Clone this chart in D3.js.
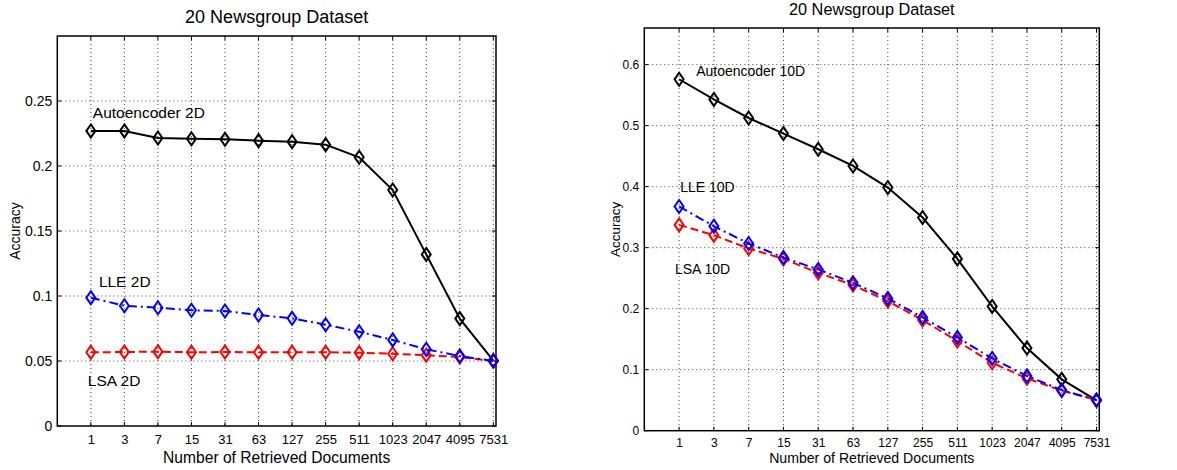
<!DOCTYPE html>
<html>
<head>
<meta charset="utf-8">
<script src="https://cdn.jsdelivr.net/npm/d3@7"></script>
<style>
  body { margin: 0; background: #fff; }
  svg text { font-family: "Liberation Sans", Arial, sans-serif; fill: #000; }
</style>
</head>
<body>
<svg id="mainsvg" width="1177" height="470"></svg>
<script>
// categories (x axis)
const docs = ['1','3','7','15','31','63','127','255','511','1023','2047','4095','7531'];

// left panel: 2D codes
const auto2D = [0.227, 0.227, 0.2215, 0.221, 0.2205, 0.2195, 0.2187, 0.2164, 0.2067, 0.1815, 0.132, 0.0826, 0.0503];
const lle2D  = [0.0987, 0.0925, 0.091, 0.089, 0.0885, 0.0854, 0.0828, 0.0779, 0.0725, 0.0662, 0.059, 0.0538, 0.050];
const lsa2D  = [0.0567, 0.0569, 0.0572, 0.0567, 0.0569, 0.0567, 0.0567, 0.0567, 0.0564, 0.0556, 0.0545, 0.053, 0.050];
const yTicks2D = [0, 0.05, 0.1, 0.15, 0.2, 0.25];

// right panel: 10D codes
const auto10D = [0.576, 0.543, 0.5125, 0.487, 0.4613, 0.4339, 0.3985, 0.3494, 0.2816, 0.2037, 0.1354, 0.0842, 0.0498];
const lle10D  = [0.3675, 0.3352, 0.3068, 0.2839, 0.2643, 0.2424, 0.2168, 0.1857, 0.1529, 0.1185, 0.0896, 0.0666, 0.0503];
const lsa10D  = [0.3373, 0.3205, 0.2987, 0.2816, 0.2587, 0.2386, 0.2124, 0.1813, 0.1469, 0.1113, 0.0858, 0.0655, 0.0503];
const yTicks10D = [0, 0.1, 0.2, 0.3, 0.4, 0.5, 0.6];

var svg = d3.select('#mainsvg');

// series styles
const styles = {
  auto: {color: '#000', dash: null},
  lle:  {color: '#0000ff', dash: '9,4,2,4'},
  lsa:  {color: '#ff0000', dash: '8,4'}
};

function panel(cfg) {
  var g = svg.append('g');
  var x = d3.scaleLinear().domain([0, 13.08]).range([cfg.left, cfg.right]);
  var y = d3.scaleLinear().domain([0, cfg.ymax]).range([cfg.bottom, cfg.top]);
  var idx = d3.range(1, docs.length + 1);

  // grid
  g.append('g').selectAll('line').data(idx).enter().append('line')
    .attr('x1', d => x(d)).attr('x2', d => x(d))
    .attr('y1', cfg.top).attr('y2', cfg.bottom)
    .attr('stroke', '#333').attr('stroke-width', 0.9).attr('stroke-dasharray', '1,3');
  g.append('g').selectAll('line').data(cfg.yticks.filter(v => v > 0)).enter().append('line')
    .attr('x1', cfg.left).attr('x2', cfg.right)
    .attr('y1', d => y(d)).attr('y2', d => y(d))
    .attr('stroke', '#333').attr('stroke-width', 0.9).attr('stroke-dasharray', '1,3');

  // small inner ticks on all four sides
  var tk = 4;
  idx.forEach(function(d) {
    g.append('line').attr('x1', x(d)).attr('x2', x(d)).attr('y1', cfg.bottom).attr('y2', cfg.bottom - tk).attr('stroke', '#000');
    g.append('line').attr('x1', x(d)).attr('x2', x(d)).attr('y1', cfg.top).attr('y2', cfg.top + tk).attr('stroke', '#000');
  });
  cfg.yticks.forEach(function(v) {
    g.append('line').attr('x1', cfg.left).attr('x2', cfg.left + tk).attr('y1', y(v)).attr('y2', y(v)).attr('stroke', '#000');
    g.append('line').attr('x1', cfg.right).attr('x2', cfg.right - tk).attr('y1', y(v)).attr('y2', y(v)).attr('stroke', '#000');
  });

  // axes labels
  var xa = g.append('g').attr('transform', 'translate(0,' + cfg.bottom + ')')
    .call(d3.axisBottom(x).tickValues(idx).tickSize(0).tickPadding(cfg.xpad).tickFormat(d => docs[d - 1]));
  xa.select('.domain').remove();
  xa.selectAll('text').style('font-size', cfg.xfs + 'px').style('font-family', '"Liberation Sans", Arial, sans-serif');

  var ya = g.append('g').attr('transform', 'translate(' + cfg.left + ',0)')
    .call(d3.axisLeft(y).tickValues(cfg.yticks).tickSize(0).tickPadding(cfg.ypad).tickFormat(d => String(+d.toFixed(2))));
  ya.select('.domain').remove();
  ya.selectAll('text').style('font-size', cfg.yfs + 'px').style('font-family', '"Liberation Sans", Arial, sans-serif');

  // box
  g.append('rect').attr('x', cfg.left).attr('y', cfg.top)
    .attr('width', cfg.right - cfg.left).attr('height', cfg.bottom - cfg.top)
    .attr('fill', 'none').attr('stroke', '#000').attr('stroke-width', 1.5);

  // series
  var line = d3.line().x((d, i) => x(i + 1)).y(d => y(d));
  cfg.series.forEach(function(s) {
    var st = styles[s.key];
    g.append('path').datum(s.values)
      .attr('d', line)
      .attr('fill', 'none')
      .attr('stroke', st.color)
      .attr('stroke-width', 2)
      .attr('stroke-dasharray', st.dash);
    g.append('g').selectAll('path').data(s.values).enter().append('path')
      .attr('d', 'M0,-6.5L4.5,0L0,6.5L-4.5,0Z')
      .attr('transform', (d, i) => 'translate(' + x(i + 1) + ',' + y(d) + ')')
      .attr('fill', 'none')
      .attr('stroke', st.color)
      .attr('stroke-width', 2);
  });

  // series annotations
  cfg.notes.forEach(function(n) {
    g.append('text').attr('x', x(n.x)).attr('y', y(n.y))
      .style('font-size', cfg.nfs + 'px').text(n.label);
  });

  // title and axis titles
  var cx = (cfg.left + cfg.right) / 2;
  g.append('text').attr('x', cx).attr('y', cfg.titleY)
    .attr('text-anchor', 'middle').style('font-size', cfg.tfs + 'px').text('20 Newsgroup Dataset');
  g.append('text').attr('x', cx).attr('y', cfg.xlabY)
    .attr('text-anchor', 'middle').style('font-size', cfg.xlfs + 'px').text('Number of Retrieved Documents');
  g.append('text')
    .attr('transform', 'translate(' + cfg.ylabX + ',' + ((cfg.top + cfg.bottom) / 2) + ') rotate(-90)')
    .attr('text-anchor', 'middle').style('font-size', cfg.ylfs + 'px').text('Accuracy');
}

panel({
  left: 57.3, right: 496, top: 36, bottom: 426, ymax: 0.3, yticks: yTicks2D,
  xfs: 13, yfs: 14, xpad: 9, ypad: 5, nfs: 15.5, tfs: 18, xlfs: 15.6, ylfs: 14,
  titleY: 23, xlabY: 463, ylabX: 20,
  series: [{key: 'auto', values: auto2D}, {key: 'lsa', values: lsa2D}, {key: 'lle', values: lle2D}],
  notes: [
    {label: 'Autoencoder 2D', x: 1.06, y: 0.2369},
    {label: 'LLE 2D', x: 1.24, y: 0.1072},
    {label: 'LSA 2D', x: 0.91, y: 0.031}
  ]
});

panel({
  left: 644.3, right: 1099.3, top: 28, bottom: 430.7, ymax: 0.66, yticks: yTicks10D,
  xfs: 12, yfs: 12, xpad: 8, ypad: 5, nfs: 14, tfs: 16.3, xlfs: 14.1, ylfs: 13.4,
  titleY: 15, xlabY: 463, ylabX: 620,
  series: [{key: 'auto', values: auto10D}, {key: 'lsa', values: lsa10D}, {key: 'lle', values: lle10D}],
  notes: [
    {label: 'Autoencoder 10D', x: 1.49, y: 0.5808},
    {label: 'LLE 10D', x: 1.03, y: 0.3914},
    {label: 'LSA 10D', x: 0.88, y: 0.2566}
  ]
});
</script>
</body>
</html>
